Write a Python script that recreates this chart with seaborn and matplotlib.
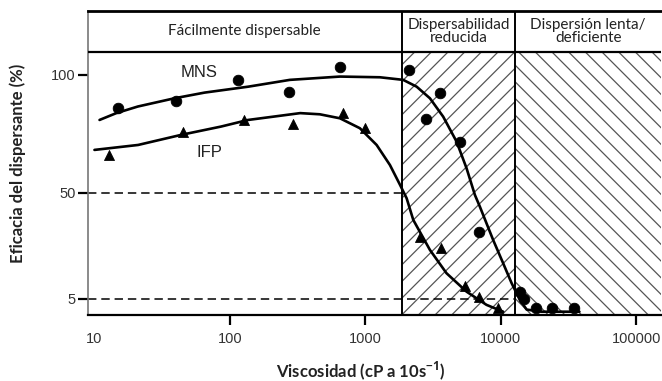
import math
import matplotlib
matplotlib.use("Agg")
import matplotlib.pyplot as plt
from matplotlib.ticker import NullLocator
import pandas as pd
import seaborn as sns

# ---------------- data ----------------
mns_visc = [15, 40, 115, 272, 649, 2110, 2800, 3550, 4980, 6920, 13800, 14800, 18300, 24000, 34600]
mns_eff = [86, 89, 98, 92.7, 103.5, 102, 81.5, 92.2, 71.5, 33.5, 8, 5, 1.2, 1.2, 1.2]

ifp_visc = [12.7, 45, 128, 294, 686, 991, 2520, 3610, 5420, 6890, 9550]
ifp_eff = [66, 75.7, 81, 79, 84, 77.7, 31.4, 26.5, 10.5, 5.7, 1]

mns_fit_visc = [10.9, 14.5, 20.9, 39, 65, 136, 277, 649, 1279, 1900, 2390, 2993, 3750,
                4710, 5580, 6430, 7000, 8770, 10400, 12000, 13800, 15500, 20000, 38000]
mns_fit_eff = [80.9, 83.8, 86.6, 90.1, 92.5, 95, 97.9, 99.3, 99.0, 97.9, 95.0, 90.1, 82.3,
               71.7, 60.4, 49.1, 44.1, 30, 20.1, 11.7, 4.6, 0.5, -0.4, -0.4]

ifp_fit_visc = [10, 21, 43.8, 86, 136, 209, 330, 461, 649, 910, 1210, 1517, 1800, 2015,
                2256, 2993, 3970, 5580, 7830, 10400]
ifp_fit_eff = [68.2, 70.3, 74.6, 78.1, 80.9, 82.3, 83.8, 83.3, 81.6, 77.4, 70.3, 61.8, 53.4, 47.7,
               38.5, 25.8, 15.9, 8.1, 2.5, -0.4]

series_names = ["MNS", "IFP"]
series_label_pos_x = [59, 71]
series_label_pos_y = [101, 67.3]

regions = ["Fácilmente dispersable", "Dispersabilidad\nreducida", "Dispersión lenta/\ndeficiente"]
region_edges = [8.96, 1850, 12800, 152000]
ref_levels = [50, 5]
ref_level_ends = [1850, 12800]

xtick_values = [10, 100, 1000, 10000, 100000]
xtick_labels = ["10", "100", "1000", "10000", "100000"]
ytick_values = [5, 50, 100]
ytick_labels = ["5", "50", "100"]

x_label = "Viscosidad (cP a 10s$^{\\mathbf{-1}}$)"
y_label = "Eficacia del dispersante (%)"

# ---------------- styling ----------------
sns.set_style("white")
plt.rcParams["font.family"] = ["Liberation Sans", "DejaVu Sans"]
plt.rcParams["hatch.linewidth"] = 0.9
plt.rcParams["mathtext.fontset"] = "custom"
plt.rcParams["mathtext.rm"] = "Open Sans"
plt.rcParams["mathtext.bf"] = "Open Sans:bold"

W, H = 662, 381
fig = plt.figure(figsize=(W / 100, H / 100), dpi=100)
ax = fig.add_axes([88 / W, (H - 315) / H, 573 / W, 304 / H])

ylo, yhi = -1.8, 127.1
header_y = 109.8
ax.set_xscale("log")
ax.set_xlim(region_edges[0], region_edges[-1])
ax.set_ylim(ylo, yhi)
frac = (header_y - ylo) / (yhi - ylo)

# hatched regions
ax.axvspan(region_edges[1], region_edges[2], ymin=0, ymax=frac, fill=False,
           hatch="//", edgecolor="#555555", lw=0, zorder=0)
ax.axvspan(region_edges[2], region_edges[3], ymin=0, ymax=frac, fill=False,
           hatch="\\\\", edgecolor="#555555", lw=0, zorder=0)

# header band separators
ax.axhline(header_y, color="black", lw=1.6, zorder=3)
for e in region_edges[1:3]:
    ax.axvline(e, color="black", lw=1.4, zorder=3)

# reference dashed lines
for lvl, end in zip(ref_levels, ref_level_ends):
    ax.hlines(lvl, region_edges[0], end, colors="black", linestyles=(0, (5.5, 3.2)),
              lw=1.1, zorder=2)

# fitted curves
fit_df = pd.concat([
    pd.DataFrame({"visc": mns_fit_visc, "eff": mns_fit_eff, "serie": "MNS"}),
    pd.DataFrame({"visc": ifp_fit_visc, "eff": ifp_fit_eff, "serie": "IFP"}),
])
sns.lineplot(data=fit_df, x="visc", y="eff", units="serie", estimator=None, sort=False,
             color="black", lw=1.9, ax=ax, legend=False, zorder=4)
for ln in ax.lines[-2:]:
    ln.set_solid_joinstyle("round")
    ln.set_solid_capstyle("round")

# data points
sns.scatterplot(x=mns_visc, y=mns_eff, marker="o", s=58, color="black",
                edgecolor="black", ax=ax, zorder=5, clip_on=False)
sns.scatterplot(x=ifp_visc, y=ifp_eff, marker="^", s=52, color="black",
                edgecolor="black", ax=ax, zorder=5, clip_on=False)

for name, sx, sy in zip(series_names, series_label_pos_x, series_label_pos_y):
    ax.text(sx, sy, name, ha="center", va="center", fontsize=12, color="#222222")

# header texts
header_font = ["Lato", "DejaVu Sans"]
for i, label in enumerate(regions):
    lo, hi = region_edges[i], region_edges[i + 1]
    xm = 10 ** ((math.log10(lo) + math.log10(hi)) / 2)
    ax.text(xm, (header_y + yhi) / 2, label, ha="center", va="center",
            fontsize=11, family=header_font, linespacing=0.85, color="#222222")

# axes & ticks
ax.set_xticks(xtick_values)
ax.set_xticklabels(xtick_labels)
ax.xaxis.set_minor_locator(NullLocator())
ax.set_yticks(ytick_values)
ax.set_yticklabels(ytick_labels)
ax.tick_params(axis="both", which="major", bottom=True, left=True, direction="out",
               length=7, width=1.6, color="black", labelsize=10.5, labelcolor="#333333")
ax.tick_params(axis="x", pad=5)
ax.tick_params(axis="y", pad=2)
ax.xaxis.get_major_ticks()[0].tick1line.set_visible(False)
ax.set_xlabel("")
ax.set_ylabel("")

for side in ["left", "bottom", "top"]:
    ax.spines[side].set_visible(True)
ax.spines["left"].set_color("#777777")
ax.spines["left"].set_linewidth(1.2)
ax.spines["bottom"].set_color("black")
ax.spines["bottom"].set_linewidth(1.6)
ax.spines["top"].set_color("black")
ax.spines["top"].set_linewidth(2.0)
ax.spines["right"].set_visible(False)

fig.text(361 / W, 1 - 371 / H, x_label, ha="center", va="center", fontsize=12,
         fontweight="bold", family=["Lato", "DejaVu Sans"], color="#222222")
fig.text(18 / W, 1 - 163 / H, y_label, ha="center", va="center", rotation=90,
         fontsize=12, fontweight="bold", family=["Lato", "DejaVu Sans"], color="#222222")

fig.savefig("out.png", dpi=100)
